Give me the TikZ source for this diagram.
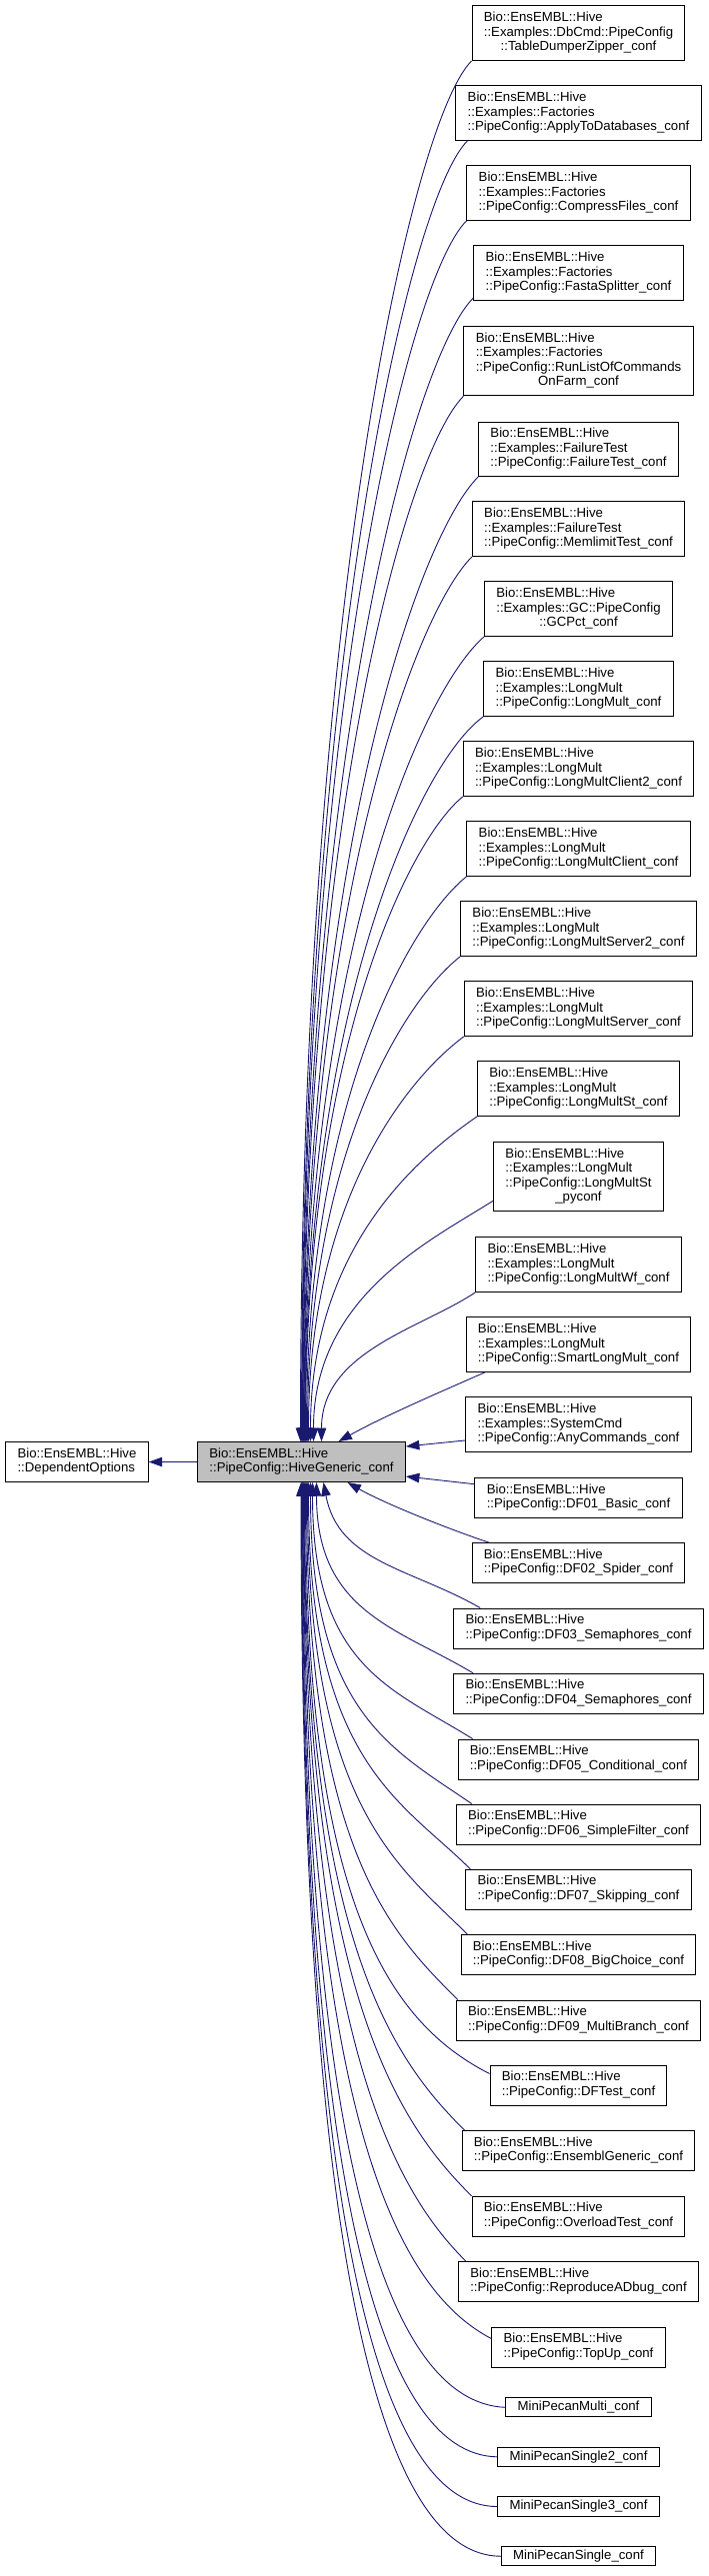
\documentclass[tikz,border=0pt]{standalone}
\usepackage{fontspec}
\setmainfont{Liberation Sans}
\usetikzlibrary{arrows.meta}

\definecolor{midnight}{RGB}{25,25,112}
\definecolor{selgray}{RGB}{191,191,191}

\newcommand{\boxlines}[1]{\begin{tabular}{@{}l@{}}#1\end{tabular}}
\newcommand{\lastctr}[1]{\multicolumn{1}{@{}c@{}}{#1}}

\begin{document}
\begin{tikzpicture}[
   x=1pt,
   y=-1pt,
   >={Triangle[length=13.5pt,width=9.5pt]},
   line width=1pt,
   cls/.style={
      draw=black,
      fill=white,
      inner xsep=11.8pt,
      inner ysep=5.5pt,
      font=\fontsize{13.2}{14.5}\selectfont
   },
   oneline/.style={
      cls,
      inner ysep=3.4pt
   },
   inh/.style={
      draw=midnight,
      line width=0.9pt,
      ->
   }
]

   \useasboundingbox (0,0) rectangle (709,2577);

   % Base classes
   \node[cls] (opts) at (77,1462.5)
      {\boxlines{Bio::EnsEMBL::Hive\\::DependentOptions}};

   \node[cls, fill=selgray] (hive) at (301.5,1462.5)
      {\boxlines{Bio::EnsEMBL::Hive\\::PipeConfig::HiveGeneric\_conf}};

   \draw[inh] (hive.west) -- (opts.east);

   % Examples
   \node[cls] (tdz) at (578.5,33.2)
      {\boxlines{Bio::EnsEMBL::Hive\\::Examples::DbCmd::PipeConfig\\\lastctr{::TableDumperZipper\_conf}}};
   \node[cls] (apply) at (578.5,113.2)
      {\boxlines{Bio::EnsEMBL::Hive\\::Examples::Factories\\::PipeConfig::ApplyToDatabases\_conf}};
   \node[cls] (compress) at (578.5,193.2)
      {\boxlines{Bio::EnsEMBL::Hive\\::Examples::Factories\\::PipeConfig::CompressFiles\_conf}};
   \node[cls] (fasta) at (578.5,273.2)
      {\boxlines{Bio::EnsEMBL::Hive\\::Examples::Factories\\::PipeConfig::FastaSplitter\_conf}};
   \node[cls] (runlist) at (578.5,361.3)
      {\boxlines{Bio::EnsEMBL::Hive\\::Examples::Factories\\::PipeConfig::RunListOfCommands\\\lastctr{OnFarm\_conf}}};
   \node[cls] (failure) at (578.5,449.3)
      {\boxlines{Bio::EnsEMBL::Hive\\::Examples::FailureTest\\::PipeConfig::FailureTest\_conf}};
   \node[cls] (memlimit) at (578.5,529.2)
      {\boxlines{Bio::EnsEMBL::Hive\\::Examples::FailureTest\\::PipeConfig::MemlimitTest\_conf}};
   \node[cls] (gcpct) at (578.5,609.2)
      {\boxlines{Bio::EnsEMBL::Hive\\::Examples::GC::PipeConfig\\\lastctr{::GCPct\_conf}}};

   % LongMult
   \node[cls] (lm) at (578.5,689.2)
      {\boxlines{Bio::EnsEMBL::Hive\\::Examples::LongMult\\::PipeConfig::LongMult\_conf}};
   \node[cls] (lmc2) at (578.5,769.2)
      {\boxlines{Bio::EnsEMBL::Hive\\::Examples::LongMult\\::PipeConfig::LongMultClient2\_conf}};
   \node[cls] (lmc) at (578.5,849.2)
      {\boxlines{Bio::EnsEMBL::Hive\\::Examples::LongMult\\::PipeConfig::LongMultClient\_conf}};
   \node[cls] (lms2) at (578.5,929.2)
      {\boxlines{Bio::EnsEMBL::Hive\\::Examples::LongMult\\::PipeConfig::LongMultServer2\_conf}};
   \node[cls] (lms) at (578.5,1009.2)
      {\boxlines{Bio::EnsEMBL::Hive\\::Examples::LongMult\\::PipeConfig::LongMultServer\_conf}};
   \node[cls] (lmst) at (578.5,1089.2)
      {\boxlines{Bio::EnsEMBL::Hive\\::Examples::LongMult\\::PipeConfig::LongMultSt\_conf}};
   \node[cls] (lmstpy) at (578.5,1177.2)
      {\boxlines{Bio::EnsEMBL::Hive\\::Examples::LongMult\\::PipeConfig::LongMultSt\\\lastctr{\_pyconf}}};
   \node[cls] (lmwf) at (578.5,1265.2)
      {\boxlines{Bio::EnsEMBL::Hive\\::Examples::LongMult\\::PipeConfig::LongMultWf\_conf}};
   \node[cls] (smartlm) at (578.5,1345.2)
      {\boxlines{Bio::EnsEMBL::Hive\\::Examples::LongMult\\::PipeConfig::SmartLongMult\_conf}};
   \node[cls] (anycmd) at (578.5,1425.2)
      {\boxlines{Bio::EnsEMBL::Hive\\::Examples::SystemCmd\\::PipeConfig::AnyCommands\_conf}};

   % DF pipelines
   \node[cls] (df01) at (578.5,1498.7)
      {\boxlines{Bio::EnsEMBL::Hive\\::PipeConfig::DF01\_Basic\_conf}};
   \node[cls] (df02) at (578.5,1563.8)
      {\boxlines{Bio::EnsEMBL::Hive\\::PipeConfig::DF02\_Spider\_conf}};
   \node[cls] (df03) at (578.5,1629)
      {\boxlines{Bio::EnsEMBL::Hive\\::PipeConfig::DF03\_Semaphores\_conf}};
   \node[cls] (df04) at (578.5,1694.3)
      {\boxlines{Bio::EnsEMBL::Hive\\::PipeConfig::DF04\_Semaphores\_conf}};
   \node[cls] (df05) at (578.5,1760)
      {\boxlines{Bio::EnsEMBL::Hive\\::PipeConfig::DF05\_Conditional\_conf}};
   \node[cls] (df06) at (578.5,1825)
      {\boxlines{Bio::EnsEMBL::Hive\\::PipeConfig::DF06\_SimpleFilter\_conf}};
   \node[cls] (df07) at (578.5,1890.3)
      {\boxlines{Bio::EnsEMBL::Hive\\::PipeConfig::DF07\_Skipping\_conf}};
   \node[cls] (df08) at (578.5,1955.7)
      {\boxlines{Bio::EnsEMBL::Hive\\::PipeConfig::DF08\_BigChoice\_conf}};
   \node[cls] (df09) at (578.5,2021)
      {\boxlines{Bio::EnsEMBL::Hive\\::PipeConfig::DF09\_MultiBranch\_conf}};
   \node[cls] (dftest) at (578.5,2086)
      {\boxlines{Bio::EnsEMBL::Hive\\::PipeConfig::DFTest\_conf}};

   % Other pipe configs
   \node[cls] (ensgen) at (578.5,2151.7)
      {\boxlines{Bio::EnsEMBL::Hive\\::PipeConfig::EnsemblGeneric\_conf}};
   \node[cls] (overload) at (578.5,2217.3)
      {\boxlines{Bio::EnsEMBL::Hive\\::PipeConfig::OverloadTest\_conf}};
   \node[cls] (adbug) at (578.5,2282.7)
      {\boxlines{Bio::EnsEMBL::Hive\\::PipeConfig::ReproduceADbug\_conf}};
   \node[cls] (topup) at (578.5,2348)
      {\boxlines{Bio::EnsEMBL::Hive\\::PipeConfig::TopUp\_conf}};

   % MiniPecan
   \node[oneline] (mpmulti) at (578.5,2408.3) {MiniPecanMulti\_conf};
   \node[oneline] (mps2) at (578.5,2457.8) {MiniPecanSingle2\_conf};
   \node[oneline] (mps3) at (578.5,2507.5) {MiniPecanSingle3\_conf};
   \node[oneline] (mps) at (578.5,2557.2) {MiniPecanSingle\_conf};

   % Inheritance from above
   \draw[inh] (tdz.south west)
      .. controls +(-60,60) and +(0,-830) .. ([xshift=-1pt]hive.north);
   \draw[inh] ([xshift=12pt]apply.south west)
      .. controls +(-58,58) and +(0,-780) .. (hive.north);
   \draw[inh] (compress.south west)
      .. controls +(-58,58) and +(0,-735) .. ([xshift=0.5pt]hive.north);
   \draw[inh] ([yshift=3pt]fasta.south west)
      .. controls +(-60,60) and +(0,-685) .. ([xshift=1pt]hive.north);
   \draw[inh] (runlist.south west)
      .. controls +(-56,56) and +(0,-630) .. ([xshift=1.5pt]hive.north);
   \draw[inh] (failure.south west)
      .. controls +(-60,60) and +(0,-580) .. ([xshift=2pt]hive.north);
   \draw[inh] (memlimit.south west)
      .. controls +(-58,58) and +(0,-530) .. ([xshift=2.5pt]hive.north);
   \draw[inh] (gcpct.south west)
      .. controls +(-63,55) and +(0,-485) .. ([xshift=3pt]hive.north);
   \draw[inh] (lm.south west)
      .. controls +(-63,45) and +(0,-435) .. ([xshift=3.5pt]hive.north);
   \draw[inh] (lmc2.south west)
      .. controls +(-55,45) and +(0,-390) .. ([xshift=4pt]hive.north);
   \draw[inh] (lmc.south west)
      .. controls +(-56,45) and +(0,-340) .. ([xshift=5pt]hive.north);
   \draw[inh] (lms2.south west)
      .. controls +(-54,42) and +(0,-290) .. ([xshift=6pt]hive.north);
   \draw[inh] (lms.south west)
      .. controls +(-54,40) and +(0,-245) .. ([xshift=7pt]hive.north);
   \draw[inh] (lmst.south west)
      .. controls +(-58,40) and +(0,-195) .. ([xshift=9pt]hive.north);
   \draw[inh] ([yshift=11pt]lmstpy.south west)
      .. controls +(-63,40) and +(0,-145) .. ([xshift=12pt]hive.north);
   \draw[inh] (lmwf.south west)
      .. controls +(-54,36) and +(0,-90) .. ([xshift=20pt]hive.north);
   \draw[inh] ([xshift=19pt]smartlm.south west)
      .. controls +(-50,22) and +(45,-25) .. ([xshift=37pt]hive.north);

   % Inheritance from the side
   \draw[inh] ([yshift=12pt]anycmd.south west) -- ([yshift=15.5pt]hive.east);
   \draw[inh] ([yshift=-6.5pt]df01.north west) -- ([yshift=-14.5pt]hive.east);

   % Inheritance from below
   \draw[inh] ([xshift=18pt]df02.north west)
      .. controls +(-45,-15) and +(35,20) .. ([xshift=46pt]hive.south);
   \draw[inh] ([xshift=27pt]df03.north west)
      .. controls +(-70,-40) and +(15,80) .. ([xshift=22pt]hive.south);
   \draw[inh] ([xshift=20pt]df04.north west)
      .. controls +(-75,-45) and +(0,130) .. ([xshift=15pt]hive.south);
   \draw[inh] ([xshift=15pt]df05.north west)
      .. controls +(-80,-50) and +(0,185) .. ([xshift=11pt]hive.south);
   \draw[inh] ([xshift=16pt]df06.north west)
      .. controls +(-80,-55) and +(0,230) .. ([xshift=9pt]hive.south);
   \draw[inh] ([xshift=5pt]df07.north west)
      .. controls +(-68,-68) and +(0,280) .. ([xshift=7pt]hive.south);
   \draw[inh] ([xshift=7pt]df08.north west)
      .. controls +(-68,-68) and +(0,325) .. ([xshift=6pt]hive.south);
   \draw[inh] ([xshift=2pt]df09.north west)
      .. controls +(-64,-64) and +(0,370) .. ([xshift=5pt]hive.south);
   \draw[inh] ([yshift=-9pt]dftest.north west)
      .. controls +(-98,-50) and +(0,425) .. ([xshift=4pt]hive.south);
   \draw[inh] ([xshift=3pt]ensgen.north west)
      .. controls +(-68,-68) and +(0,465) .. ([xshift=3pt]hive.south);
   \draw[inh] (overload.north west)
      .. controls +(-70,-70) and +(0,515) .. ([xshift=2.5pt]hive.south);
   \draw[inh] ([xshift=8pt]adbug.north west)
      .. controls +(-69,-69) and +(0,560) .. ([xshift=2pt]hive.south);
   \draw[inh] ([yshift=-12pt]topup.north west)
      .. controls +(-100,-52) and +(0,615) .. ([xshift=1.5pt]hive.south);
   \draw[inh] (mpmulti.west)
      .. controls +(-120,-5) and +(0,665) .. ([xshift=1pt]hive.south);
   \draw[inh] (mps2.west)
      .. controls +(-118,-2) and +(0,700) .. ([xshift=0.5pt]hive.south);
   \draw[inh] (mps3.west)
      .. controls +(-118,0) and +(0,740) .. (hive.south);
   \draw[inh] (mps.west)
      .. controls +(-120,0) and +(0,775) .. ([xshift=-0.5pt]hive.south);

\end{tikzpicture}
\end{document}
